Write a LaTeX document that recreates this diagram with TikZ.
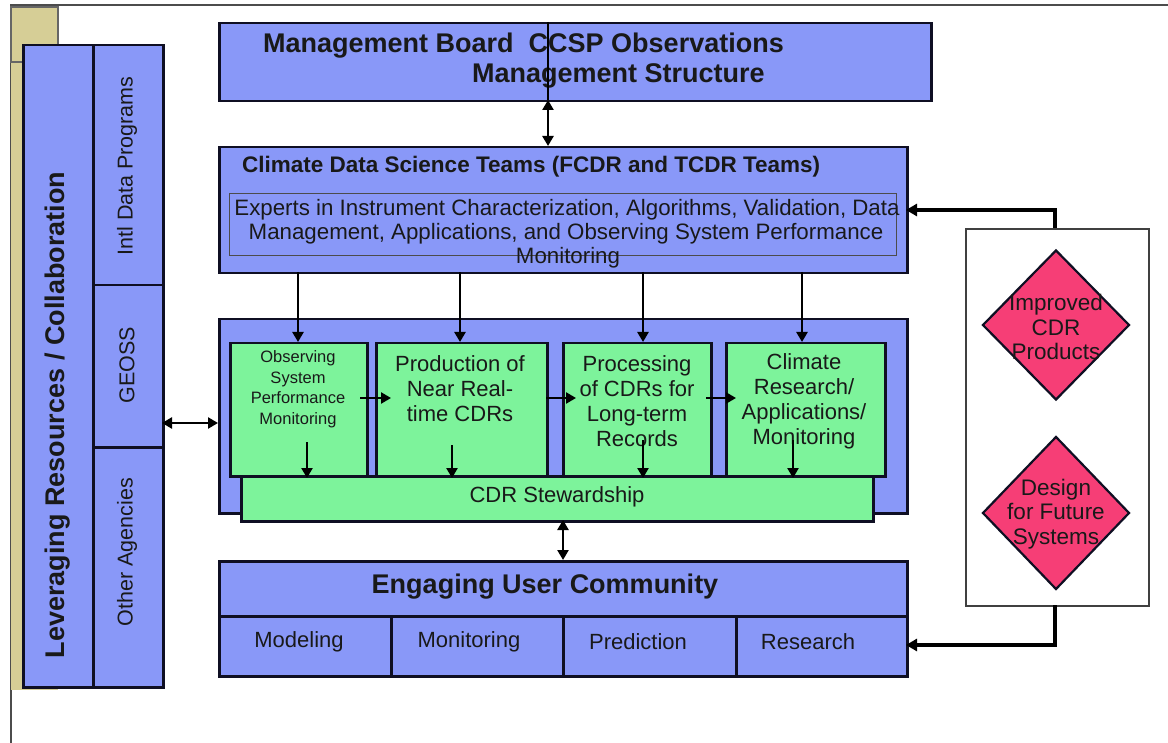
\documentclass[tikz,border=0pt]{standalone}
\usepackage{fontspec}
\setmainfont{Liberation Sans}
\usetikzlibrary{shapes.geometric,arrows.meta}
\definecolor{cblue}{RGB}{137,152,248}
\definecolor{cgreen}{RGB}{125,243,155}
\definecolor{cpink}{RGB}{246,62,118}
\definecolor{ckhaki}{RGB}{214,206,150}
\definecolor{cline}{RGB}{15,15,35}
\newcommand{\fsz}[2]{\fontsize{#1}{#2}\selectfont}
\begin{document}
\begin{tikzpicture}[x=1pt,y=-1pt,
  bluebox/.style={draw=cline, line width=2.5pt, fill=cblue, inner sep=0pt},
  greenbox/.style={draw=cline, line width=2.5pt, fill=cgreen, inner sep=0pt},
  txt/.style={inner sep=0pt, text=black!90},
  arr/.style={line width=2.7pt, -{Triangle[length=10pt,width=11pt]}},
  darr/.style={line width=2.7pt, {Triangle[length=10pt,width=11pt]}-{Triangle[length=10pt,width=11pt]}},
  feed/.style={line width=3.2pt, -{Triangle[length=11pt,width=12pt]}},
  dia/.style={diamond, draw=cline, line width=2.2pt, fill=cpink, inner sep=0pt}]
\useasboundingbox (0,0) rectangle (1168,743);
% frame
\draw[line width=2pt, black!70] (11,743) -- (11,5) -- (1168,5);
% khaki backdrop
\fill[ckhaki] (11,8) rectangle (58,690);
\draw[line width=1.4pt, black!60, fill=ckhaki] (11,7) rectangle (58,62);
% leveraging column
\node[bluebox, anchor=north west, minimum width=140, minimum height=642] (lev) at (22,44) {};
\node[bluebox, anchor=north west, minimum width=70, minimum height=240] (intl) at (92,44) {};
\node[bluebox, anchor=north west, minimum width=70, minimum height=162] (geoss) at (92,284) {};
\node[bluebox, anchor=north west, minimum width=70, minimum height=240] (other) at (92,446) {};
\node[txt, rotate=90, font=\bfseries\fsz{27}{27}] (levt) at (58,415) {Leveraging Resources / Collaboration};
\node[txt, rotate=90, font=\fsz{21.5}{22}] (intlt) at (127,166) {Intl Data Programs};
\node[txt, rotate=90, font=\fsz{21.5}{22}] (geosst) at (127,365) {GEOSS};
\node[txt, rotate=90, font=\fsz{21.5}{22}] (othert) at (127,552) {Other Agencies};
% management board
\node[bluebox, anchor=north west, minimum width=712, minimum height=78] (mgmt) at (218,22) {};
\node[txt, anchor=base west, font=\bfseries\fsz{27}{27}] (mt1) at (263,53) {Management Board\ \ CCSP Observations};
\node[txt, anchor=base west, font=\bfseries\fsz{27}{27}] (mt2) at (472,83) {Management Structure};
% climate data science teams
\node[bluebox, anchor=north west, minimum width=688, minimum height=126] (cdst) at (218,146) {};
\node[txt, anchor=base west, font=\bfseries\fsz{22.5}{22}] (cdstt) at (242,173) {Climate Data Science Teams (FCDR and TCDR Teams)};
\node[draw=black!70, line width=1.2pt, anchor=north west, minimum width=667, minimum height=62, inner sep=0pt] (exp) at (229,193) {};
\node[txt, font=\fsz{22.3}{22}, anchor=base] (exp1) at (567,216) {Experts in Instrument Characterization, Algorithms, Validation, Data};
\node[txt, font=\fsz{22.3}{22}, anchor=base] (exp2) at (566,240) {Management, Applications, and Observing System Performance};
\node[txt, font=\fsz{22.3}{22}, anchor=base] (exp3) at (568,264) {Monitoring};
% process container
\node[bluebox, anchor=north west, minimum width=688, minimum height=194] (proc) at (218,318) {};
\node[greenbox, anchor=north west, minimum width=137, minimum height=133] (g1) at (229,342) {};
\node[greenbox, anchor=north west, minimum width=171, minimum height=133] (g2) at (375,342) {};
\node[greenbox, anchor=north west, minimum width=148, minimum height=133] (g3) at (562,342) {};
\node[greenbox, anchor=north west, minimum width=159, minimum height=133] (g4) at (725,342) {};
\node[greenbox, anchor=north west, minimum width=632, minimum height=45] (stew) at (240,475) {};
\node[txt, font=\fsz{16.5}{20.5}, align=center] (g1t) at (298,389) {Observing\\System\\Performance\\Monitoring};
\node[txt, font=\fsz{22}{25}, align=center] (g2t) at (460,389) {Production of\\Near Real-\\time CDRs};
\node[txt, font=\fsz{22}{25}, align=center] (g3t) at (637,401) {Processing\\of CDRs for\\Long-term\\Records};
\node[txt, font=\fsz{22}{25}, align=center] (g4t) at (804,401) {Climate\\Research/\\Applications/\\Monitoring};
\node[txt, font=\fsz{22}{22}] (stewt) at (557,497) {CDR Stewardship};
% engaging user community
\node[bluebox, anchor=north west, minimum width=688, minimum height=55] (eng) at (218,560) {};
\node[bluebox, anchor=north west, minimum width=172, minimum height=60] (c1) at (218,615) {};
\node[bluebox, anchor=north west, minimum width=172, minimum height=60] (c2) at (390,615) {};
\node[bluebox, anchor=north west, minimum width=173, minimum height=60] (c3) at (562,615) {};
\node[bluebox, anchor=north west, minimum width=171, minimum height=60] (c4) at (735,615) {};
\node[txt, font=\bfseries\fsz{27}{27}] (engt) at (545,587) {Engaging User Community};
\node[txt, font=\fsz{22}{22}] (c1t) at (299,642) {Modeling};
\node[txt, font=\fsz{22}{22}] (c2t) at (469,642) {Monitoring};
\node[txt, font=\fsz{22}{22}] (c3t) at (638,642) {Prediction};
\node[txt, font=\fsz{22}{22}] (c4t) at (808,642) {Research};
% outcomes box
\node[draw=black!75, line width=1.6pt, fill=white, anchor=north west, minimum width=183, minimum height=377, inner sep=0pt] (out) at (965,228) {};
\node[dia, minimum width=147, minimum height=150] (d1) at (1056,325) {};
\node[dia, minimum width=147, minimum height=153] (d2) at (1056,513) {};
\node[txt, font=\fsz{22.5}{24.5}, align=center] (d1t) at (1056,327) {Improved\\CDR\\Products};
\node[txt, font=\fsz{22.5}{24.5}, align=center] (d2t) at (1056,514) {Design\\for Future\\Systems};
% connectors
\coordinate (mA) at (548,22);
\coordinate (mB) at (548,100);
\coordinate (mC) at (548,146);
\draw[line width=2.2pt] (mA) -- (mB);
\draw[darr] (mB) -- (mC);
\foreach \x/\g in {298/g1,460/g2,643/g3,802/g4}{
  \draw[arr] (\x,272) -- (\g.north -| \x,0);
}
\coordinate (h1a) at (360,398); \coordinate (h1b) at (391,398);
\coordinate (h2a) at (546,398); \coordinate (h2b) at (576,398);
\coordinate (h3a) at (706,398); \coordinate (h3b) at (736,398);
\draw[arr] (h1a) -- (h1b);
\draw[arr] (h2a) -- (h2b);
\draw[arr] (h3a) -- (h3b);
\foreach \x/\y in {307/442,452/445,643/440,793/440}{
  \draw[arr] (\x,\y) -- (\x,478);
}
\coordinate (sA) at (563,520); \coordinate (sB) at (563,560);
\draw[darr] (sA) -- (sB);
\coordinate (gA) at (162,423); \coordinate (gB) at (218,423);
\draw[darr] (gA) -- (gB);
\coordinate (oT) at (1055,228); \coordinate (oB) at (1055,605);
\draw[feed] (oT) -- (1055,210) -- (906,210);
\draw[feed] (oB) -- (1055,645) -- (906,645);
\end{tikzpicture}
\end{document}
